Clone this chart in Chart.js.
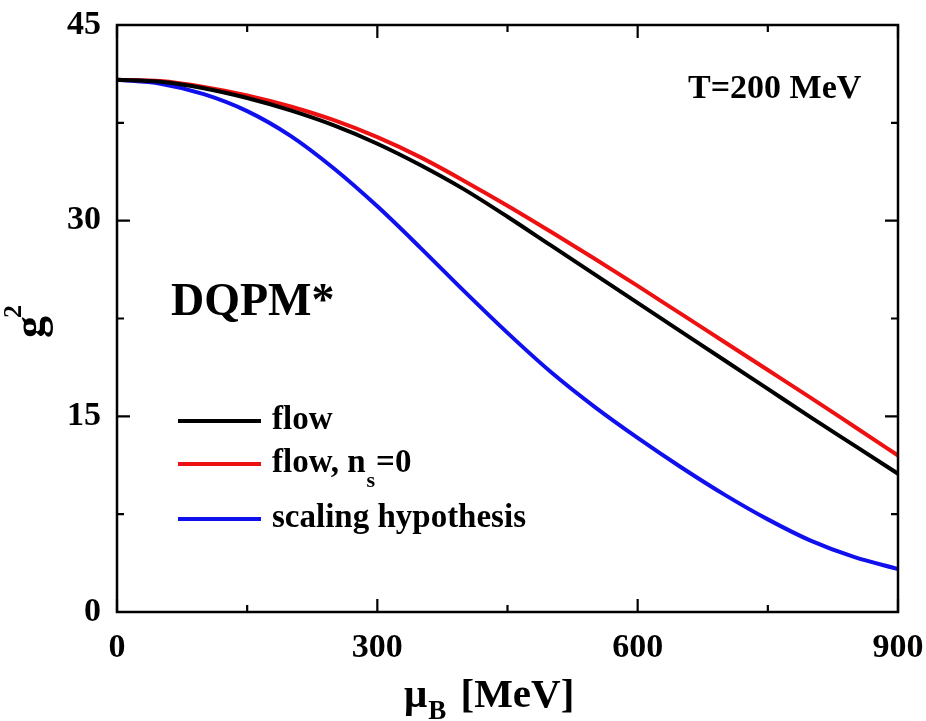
<!DOCTYPE html>
<html>
<head>
<meta charset="utf-8">
<script src="https://cdn.jsdelivr.net/npm/chart.js@4.4.1/dist/chart.umd.min.js"></script>
<style>
html,body{margin:0;padding:0;background:#fff;}
#wrap{width:926px;height:721px;position:relative;}
</style>
</head>
<body>
<div id="wrap"><canvas id="c" width="926" height="721"></canvas></div>
<script>
// ---- data ----
const muB      = [0, 50, 100, 150, 200, 250, 300, 350, 400, 450, 500, 550, 600, 650, 700, 750, 800, 850, 900];
const gFlow    = [40.8, 40.65, 40.15, 39.4, 38.45, 37.3, 35.9, 34.25, 32.4, 30.3, 28.1, 25.9, 23.7, 21.5, 19.3, 17.1, 14.9, 12.75, 10.6];
const gFlowNs0 = [40.8, 40.7, 40.25, 39.6, 38.75, 37.7, 36.4, 34.85, 33.05, 31.15, 29.15, 27.1, 25.0, 22.85, 20.7, 18.55, 16.4, 14.2, 12.0];
const gScaling = [40.8, 40.5, 39.7, 38.4, 36.5, 34.0, 31.1, 27.9, 24.6, 21.4, 18.4, 15.75, 13.35, 11.1, 9.0, 7.1, 5.45, 4.2, 3.3];
const xTickLabels = ['0', '300', '600', '900'];
const yTickLabels = ['0', '15', '30', '45'];
const seriesNames = ['flow', 'flow, n_s=0', 'scaling hypothesis'];

const FONT = "'Liberation Serif', 'Times New Roman', serif";
const pts = ys => muB.map((x, i) => ({x: x, y: ys[i]}));

const framePlugin = {
  id: 'frame',
  afterDraw(chart) {
    const ctx = chart.ctx, a = chart.chartArea;
    const xs = chart.scales.x, ys = chart.scales.y;
    ctx.save();
    ctx.strokeStyle = '#000';
    ctx.lineWidth = 2.5;
    ctx.strokeRect(a.left, a.top, a.right - a.left, a.bottom - a.top);
    ctx.lineWidth = 2.2;
    ctx.beginPath();
    xs.ticks.forEach(t => {
      const px = xs.getPixelForValue(t.value);
      const L = (t.value % 300 === 0) ? 13 : 7;
      ctx.moveTo(px, a.bottom); ctx.lineTo(px, a.bottom - L);
      ctx.moveTo(px, a.top); ctx.lineTo(px, a.top + L);
    });
    ys.ticks.forEach(t => {
      const py = ys.getPixelForValue(t.value);
      const L = (Math.abs(t.value % 15) < 1e-6) ? 13 : 7;
      ctx.moveTo(a.left, py); ctx.lineTo(a.left + L, py);
      ctx.moveTo(a.right, py); ctx.lineTo(a.right - L, py);
    });
    ctx.stroke();

    ctx.fillStyle = '#000';
    ctx.textBaseline = 'alphabetic';
    ctx.textAlign = 'left';
    // annotations
    ctx.font = 'bold 34px ' + FONT;
    ctx.fillText('T=200 MeV', 688, 98);
    ctx.font = 'bold 46px ' + FONT;
    ctx.fillText('DQPM*', 171, 315);

    // legend
    const rows = [421, 464, 519];
    chart.data.datasets.forEach((ds, i) => {
      const y = rows[i];
      ctx.strokeStyle = ds.borderColor;
      ctx.lineWidth = 4;
      ctx.beginPath(); ctx.moveTo(178, y); ctx.lineTo(261, y); ctx.stroke();
      ctx.font = 'bold 33px ' + FONT;
      let x = 272;
      const name = seriesNames[i];
      if (name.indexOf('_') >= 0) {
        const pre = name.split('_')[0];
        const rest = name.split('_')[1];
        ctx.fillText(pre, x, y + 8); x += ctx.measureText(pre).width;
        ctx.font = 'bold 22px ' + FONT;
        ctx.fillText(rest[0], x + 1, y + 23); x += ctx.measureText(rest[0]).width + 2;
        ctx.font = 'bold 33px ' + FONT;
        ctx.fillText(rest.slice(1), x, y + 8);
      } else {
        ctx.fillText(name, x, y + 8);
      }
    });

    // x axis title: mu_B [MeV]
    ctx.font = 'bold 41px ' + FONT;
    let x = 404;
    ctx.fillText('\u03BC', x, 707); x += ctx.measureText('\u03BC').width + 1;
    ctx.font = 'bold 27px ' + FONT;
    ctx.fillText('B', x, 719); x += ctx.measureText('B').width;
    ctx.font = 'bold 41px ' + FONT;
    ctx.fillText(' [MeV]', x + 4, 707);

    // y axis title: g^2 (rotated)
    ctx.translate(44, 338);
    ctx.rotate(-Math.PI / 2);
    ctx.font = 'bold 44px ' + FONT;
    ctx.fillText('g', 0, 0);
    const gw = ctx.measureText('g').width;
    ctx.font = 'bold 26px ' + FONT;
    ctx.fillText('2', gw - 2, -23);
    ctx.restore();
  }
};

new Chart(document.getElementById('c'), {
  type: 'scatter',
  data: {
    datasets: [
      {label: 'flow', data: pts(gFlow), borderColor: '#000000'},
      {label: 'flow, ns=0', data: pts(gFlowNs0), borderColor: '#ee1111'},
      {label: 'scaling hypothesis', data: pts(gScaling), borderColor: '#1010ee'}
    ].map(d => Object.assign(d, {showLine: true, borderWidth: 4, pointRadius: 0, cubicInterpolationMode: 'monotone', fill: false}))
  },
  options: {
    responsive: false,
    animation: false,
    devicePixelRatio: 1,
    layout: {padding: {left: 0, top: 25, right: 28, bottom: 0}},
    plugins: {legend: {display: false}, tooltip: {enabled: false}},
    scales: {
      x: {
        type: 'linear', min: 0, max: 900,
        afterFit(s) { s.height = 109; s.paddingLeft = 0; s.paddingRight = 0; },
        grid: {display: false, drawTicks: false},
        border: {display: false},
        ticks: {
          stepSize: 150, padding: 16, maxRotation: 0, autoSkip: false,
          color: '#000', font: {family: FONT, size: 34, weight: 'bold'},
          callback: v => (v % 300 === 0 ? xTickLabels[v / 300] : '')
        }
      },
      y: {
        type: 'linear', min: 0, max: 45,
        afterFit(s) { s.width = 117; s.paddingTop = 0; s.paddingBottom = 0; },
        grid: {display: false, drawTicks: false},
        border: {display: false},
        ticks: {
          stepSize: 7.5, padding: 16, autoSkip: false,
          color: '#000', font: {family: FONT, size: 34, weight: 'bold'},
          callback: v => (Math.abs(v % 15) < 1e-6 ? yTickLabels[Math.round(v / 15)] : '')
        }
      }
    }
  },
  plugins: [framePlugin]
});
</script>
</body>
</html>
